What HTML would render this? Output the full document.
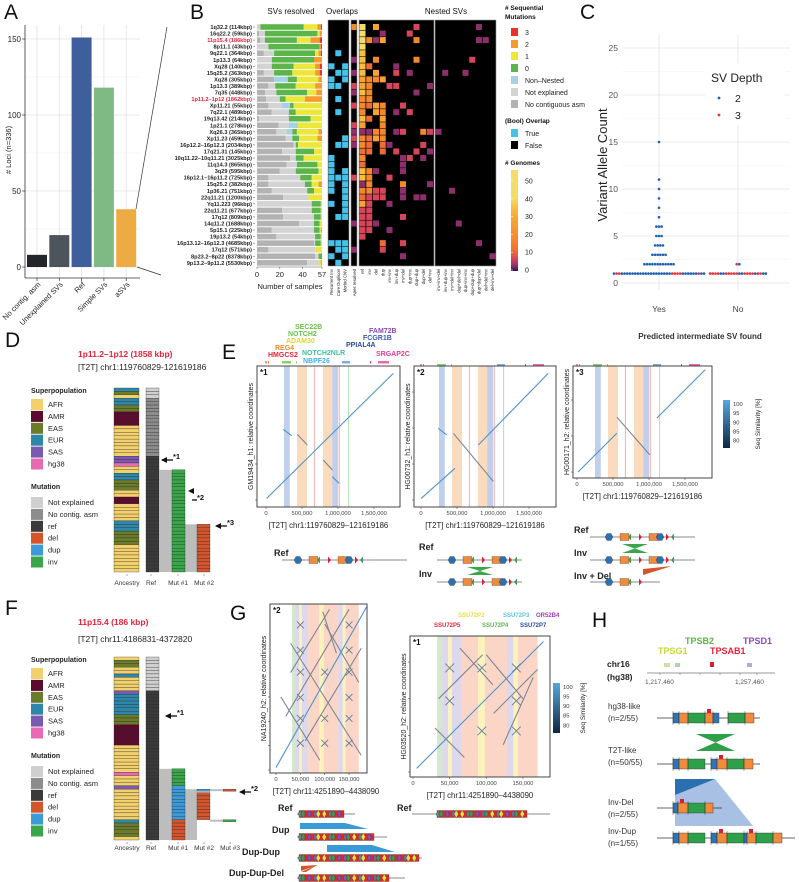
<!DOCTYPE html>
<html><head><meta charset="utf-8">
<style>
html,body{margin:0;padding:0;background:#fff;}
svg{display:block;font-family:"Liberation Sans",sans-serif;}
</style></head>
<body>
<svg id="fig" xmlns="http://www.w3.org/2000/svg" width="799" height="882" viewBox="0 0 799 882"></svg>
<script>
// ---------- DATA ----------
const aCategories=['No contig. asm','Unexplained SVs','Ref','Simple SVs','aSVs'];
const aValues=[8,21,151,118,38];
const aTicks=[0,50,100,150];

const bLoci=['1q32.2 (114kbp)','16q22.2 (59kbp)','11p15.4 (186kbp)','8p11.1 (43kbp)','9q22.1 (364kbp)','1p13.3 (64kbp)','Xq28 (140kbp)','15q25.2 (363kbp)','Xq28 (305kbp)','1p13.3 (389kbp)','7q35 (448kbp)','1p11.2\u20131p12 (1862kbp)','Xp11.21 (55kbp)','7q22.1 (489kbp)','19q13.42 (214kbp)','1p21.1 (278kbp)','Xq26.3 (365kbp)','Xp11.23 (459kbp)','16p12.2\u201316p12.3 (2034kbp)','17q21.31 (145kbp)','10q11.22\u201310q11.21 (3025kbp)','11q14.3 (865kbp)','3q29 (595kbp)','16p12.1\u201316p11.2 (725kbp)','15q25.2 (382kbp)','1p36.21 (751kbp)','22q11.21 (1200kbp)','Yq11.223 (96kbp)','22q11.21 (677kbp)','17q12 (809kbp)','14q11.2 (1688kbp)','5p15.1 (225kbp)','19p13.2 (54kbp)','16p13.12\u201316p12.3 (4685kbp)','17q12 (571kbp)','8p23.2\u20138p22 (8378kbp)','9p13.2\u20139p11.2 (5530kbp)'];
const bHighlight=[2,11];
// per locus: [noAsm, notExplained, nonNested, mut0, mut1, mut2, mut3]
const bCounts=[[0,3,0,38,12,3,1],[2,5,0,46,2,2,0],[3,4,0,28,12,8,2],[0,10,0,45,0,1,1],[6,9,0,36,3,2,1],[0,13,0,37,0,7,0],[0,13,0,19,19,4,2],[6,9,0,16,20,4,2],[15,0,12,8,19,3,0],[10,6,0,18,17,6,0],[7,10,0,27,8,5,0],[8,12,0,5,17,15,0],[10,12,7,3,25,0,0],[13,15,0,6,23,0,0],[2,26,0,19,10,0,0],[19,9,8,0,21,0,0],[17,9,5,4,19,3,0],[25,6,0,6,16,4,0],[32,2,0,2,21,0,0],[22,12,0,16,7,0,0],[29,5,0,7,16,0,0],[26,9,0,18,4,0,0],[20,14,0,20,3,0,0],[10,28,0,10,9,0,0],[10,32,0,6,6,3,0],[13,31,0,6,7,0,0],[23,22,0,0,12,0,0],[0,48,0,8,1,0,0],[22,26,0,8,1,0,0],[23,27,0,6,1,0,0],[37,13,0,5,2,0,0],[13,37,0,5,1,1,0],[17,34,0,5,1,0,0],[50,1,0,5,1,0,0],[10,41,0,0,6,0,0],[51,3,0,3,0,0,0],[44,10,0,0,2,1,0]];
const bXTicks=[0,20,40,57];
const bOverlapCols=['Recurrent Inv','Core Duplicon','Morbid CNV'];
// [row, col] true overlaps
const bOverlapTrue=[[4,1],[6,0],[6,2],[7,1],[7,2],[8,0],[8,2],[9,0],[9,1],[11,1],[13,1],[17,2],[18,1],[18,2],[20,0],[21,0],[22,0],[22,2],[23,0],[23,1],[23,2],[24,0],[24,2],[25,0],[25,2],[26,2],[27,0],[27,2],[28,2],[29,1],[29,2],[33,0],[33,1],[33,2],[34,1],[34,2],[35,0],[35,2],[36,1]];
// [row, genomes] apes resolved
const bApes=[[0,15],[5,3],[7,3],[9,8],[10,3],[12,8],[15,8],[16,3],[17,8],[18,3],[23,8],[30,3],[34,3]];
const bNestedCols=['ref','inv','del','dup','inv+inv','inv+dup','inv+del','dup+inv','dup+dup','dup+del','del+inv'];
const bNested3Cols=['inv+inv+del','inv+dup+inv','inv+del+inv','dup+del+del','dup+inv+inv','dup+dup+dup','dup+dup+del','del+del+inv','del+inv+del'];
// [row, col, genomes]
const bNestedCells=[[0,0,50],[1,0,50],[2,0,48],[3,0,45],[4,0,35],[5,0,35],[6,0,32],[7,0,30],[8,0,20],[9,0,25],[10,0,30],[11,0,15],[12,0,15],[13,0,15],[14,0,30],[15,0,20],[16,0,4],[17,0,15],[18,0,15],[19,0,10],[20,0,15],[21,0,10],[22,0,35],[23,0,30],[24,0,3],[25,0,15],[26,0,12],[27,0,20],[28,0,8],[29,0,6],[30,0,5],[31,0,5],[32,0,7],
[2,1,18],[6,1,12],[8,1,15],[9,1,15],[10,1,15],[11,1,15],[12,1,10],[14,1,12],[16,1,4],[17,1,12],[18,1,14],[19,1,12],[22,1,15],[23,1,15],[24,1,18],[25,1,15],[26,1,8],[27,1,8],[28,1,6],[29,1,8],[30,1,5],[31,1,8],
[0,2,20],[2,2,4],[5,2,15],[7,2,20],[8,2,15],[12,2,20],[13,2,20],[16,2,15],[17,2,20],[22,2,4],[25,2,8],[26,2,6],[30,2,4],
[1,3,4],[2,3,20],[8,3,20],[12,3,18],[13,3,15],[14,3,20],[15,3,15],[16,3,18],[17,3,15],[18,3,14],[19,3,12],[25,3,8],[26,3,6],[33,3,10],[34,3,6],
[9,4,6],[18,4,4],[27,4,4],[23,4,6],[31,4,4],
[7,5,8],[9,5,6],[13,5,4],[16,5,4],[19,5,6],
[6,5,4],[12,6,6],[16,6,6],[20,6,4],[21,6,4],[22,6,4],[24,6,15],[25,6,4],[26,6,4],[29,6,6],[33,6,6],[35,6,4],
[1,7,6],[7,7,4],[13,7,6],[20,7,8],
[0,8,8],[2,8,18],[5,8,15],[10,8,4],[19,8,6],[26,8,4],
[16,9,15],[26,9,4],[18,9,8],[20,9,4],
[9,10,4],[16,10,8],[19,10,4],[24,10,4]];
const bNested3Cells=[[0,6,3],[2,6,3],[2,7,3],[5,5,8],[7,1,3],[7,4,3],[16,0,3],[25,2,3],[30,3,3],[33,6,3],[35,8,3]];
const bGenomeTicks=[0,10,20,30,40,50];

const cGroups=['Yes','No'];
const cTicks=[0,5,10,15,20,25];
const cBinGroup=['Yes','Yes','Yes','Yes','Yes','Yes','Yes','Yes','Yes','Yes','Yes','Yes','No','No'];
const cBinValue=[1,2,3,4,5,6,7,8,9,10,11,15,1,2];
const cBinDepths=[
[2,3,3,2,2,2,2,2,2,2,2,2,2,2,2,2,2,2,2,2,2,2,3,3,3,3,2,2,2,2,2,2,3,2,2],
[2,2,2,2,2,2,2,2,2,2,2,2],[2,2,2,2,2,2],[2,2,2,2],[2,2,2],[2,2,2],[2],[2],[2],[2],[2],[2],
[3,3,3,3,2,2,3,3,3,3,3,2,2,3,3,3,3,2,3,3,2,2],[3,2]];

const dAncestry=['EUR','EAS','AFR','EUR','EUR','EAS','EAS','AMR','AMR','AMR','AMR','AFR','AFR','AFR','AFR','AFR','AFR','AFR','AFR','AFR','SAS','SAS','hg38','AFR','AFR','EUR','EUR','EAS','EAS','EAS','AFR','AFR','AMR','AMR','AFR','AFR','AFR','AFR','AFR','EUR','EUR','EUR','EAS','EAS','EAS','EAS','AFR','AFR','AFR','AFR','AFR','AFR','AFR','AFR'];
const dRefRuns=[['notexp',3],['noasm',17],['ref',34]];
const dMut1Runs=[['none',24],['inv',30]];
const dMut2Runs=[['none',40],['del',14]];
const dMut3Runs=[];
const fAncestry=['AFR','EAS','EAS','AFR','AFR','EUR','AFR','AFR','AFR','AFR','SAS','EUR','EUR','EUR','EUR','EUR','EUR','EAS','EAS','EAS','AMR','AMR','AMR','AMR','AMR','AMR','AFR','AFR','AFR','AFR','AFR','AFR','AFR','AFR','hg38','AFR','AFR','AFR','SAS','AFR','AFR','AFR','AFR','AFR','AFR','AFR','AFR','AFR','EUR','EAS','EAS','EAS','EAS','AFR'];
const fRefRuns=[['notexp',10],['ref',44]];
const fMut1Runs=[['none',33],['inv',5],['dup',10],['del',6]];
const fMut2Runs=[['none',39],['dupthin',1],['del',8],['nonethin',1]];
const fMut3Runs=[['none',39],['delthin',1],['none',8],['invthin',1]];

const eBands=[[250,330,'b'],[430,570,'o'],[665,675,'r'],[790,920,'o'],[920,1000,'b'],[1010,1025,'r'],[1140,1150,'g']];
const eTicks=[0,500,1000,1500];
const eTickLabels=['0','500,000','1,000,000','1,500,000'];
const eSeg1=[[9,23,1768,1759,'b'],[240,981,357,893,'b'],[435,912,574,764,'g'],[796,555,921,417,'g'],[921,324,1014,231,'b']];
const eSeg2=[[0,20,472,440,'b'],[240,995,357,903,'b'],[449,926,1004,259,'g'],[796,764,1768,1760,'b']];
const eSeg3=[[15,0,555,540,'b'],[555,760,1010,240,'g'],[1110,750,1780,1420,'b']];

const gBands=[[33,40,'gr'],[40,48,'pu'],[48,53,'ye'],[53,66,'pu'],[66,89,'or'],[89,98,'ye'],[98,128,'or'],[128,137,'pu'],[137,143,'ye'],[143,170,'or']];
const gTicks=[0,50,100,150];
const gTickLabels=['0','50,000','100,000','150,000'];
const gSeg1=[[0,5,186,335,'b'],[96,325,124,240,'g'],[30,200,110,330,'g'],[20,110,150,330,'g'],[60,60,175,250,'g'],[30,260,175,30,'g'],[100,300,170,180,'g'],[10,150,90,20,'g']];
const gCross1X=[50,50,50,50,50,50,100,100,100,150,150,150,150,150,150];
const gCross1Y=[298,246,201,149,106,55,201,106,55,298,246,201,149,106,55];
const gSeg2=[[5,5,178,178,'b'],[64,169,109,119,'g'],[123,37,164,129,'g'],[35,100,95,160,'g'],[100,160,150,100,'g'],[30,60,70,20,'g'],[110,80,170,140,'g']];
const gCross2X=[50,94,141,50,141,94,141];
const gCross2Y=[142,142,142,97,97,56,56];

// ---------- HELPERS ----------
const NS='http://www.w3.org/2000/svg';
const svg=document.getElementById('fig');
function mk(tag,attrs,parent){const e=document.createElementNS(NS,tag);for(const k in attrs)e.setAttribute(k,attrs[k]);(parent||svg).appendChild(e);return e;}
function tx(x,y,s,attrs,parent){const e=mk('text',Object.assign({x:x,y:y},attrs||{}),parent);e.textContent=s;return e;}
function grp(name){const g=mk('g',{});return g;}
function letter(s,x,y){const t=tx(x,y,s,{'font-size':21,fill:'#111'});}

// ---------- PANEL A ----------
(function(){
const g=grp('panel-a');
letter('A',4,19);
const y0=267,k=1.52;
function ay(v){return y0-v*k;}
function ax(i){return 37+i*22.3;}
[25,75,125].forEach(v=>mk('line',{x1:25,x2:140,y1:ay(v),y2:ay(v),stroke:'#f0f0f0','stroke-width':0.6},g));
aTicks.forEach(v=>mk('line',{x1:25,x2:140,y1:ay(v),y2:ay(v),stroke:'#e2e2e2','stroke-width':0.8},g));
aCategories.forEach((c,i)=>mk('line',{x1:ax(i),x2:ax(i),y1:25,y2:278,stroke:'#e2e2e2','stroke-width':0.8},g));
const cols=['#23272c','#4d545c','#3e5f9b','#7fba85','#eeab43'];
aValues.forEach((v,i)=>{const r=mk('rect',{x:ax(i)-10,y:ay(v),width:20,height:v*k,fill:cols[i]},g);

});
mk('line',{x1:25,x2:25,y1:25,y2:278,stroke:'#333','stroke-width':0.8},g);
mk('line',{x1:25,x2:140,y1:278,y2:278,stroke:'#333','stroke-width':0.8},g);
aTicks.forEach(v=>{tx(21,ay(v)+3,String(v),{'font-size':8,'text-anchor':'end',fill:'#222'},g);mk('line',{x1:22,x2:25,y1:ay(v),y2:ay(v),stroke:'#333','stroke-width':0.7},g);});
aCategories.forEach((c,i)=>{mk('line',{x1:ax(i),x2:ax(i),y1:278,y2:281,stroke:'#333','stroke-width':0.7},g);
const t=tx(ax(i)+4,285,c,{'font-size':7.5,'text-anchor':'end',transform:'rotate(-45 '+(ax(i)+4)+' 285)',fill:'#222'},g);
});
const yt=tx(11,150,'# Loci (n=336)',{'font-size':7.5,'text-anchor':'middle',transform:'rotate(-90 11 150)',fill:'#222'},g);

mk('line',{x1:136,y1:209,x2:167,y2:27,stroke:'#333','stroke-width':0.7},g);
mk('line',{x1:137,y1:267,x2:161,y2:275,stroke:'#333','stroke-width':0.7},g);
})();

// ---------- PANEL B ----------
function gcol(v){if(v>=40)return '#f3dc6a';if(v>=30)return '#f7bd3c';if(v>=20)return '#f7a233';if(v>=15)return '#f4882c';if(v>=10)return '#ee6d37';if(v>=5)return '#d6455a';if(v>=2)return '#8e2f6d';return '#4a2064';}
(function(){
const g=grp('panel-b');
letter('B',190,19);
const rowY=i=>27+i*6.55, rh=5.6;
const bx=v=>257+v*1.14;
const segCols=['#b3b3b3','#d3d3d3','#a6d1e6','#5cb54a','#ece73a','#f59a2f','#e8332a'];
tx(291,14,'SVs resolved',{'font-size':8,'text-anchor':'middle',fill:'#111'},g);
tx(342,14,'Overlaps',{'font-size':8,'text-anchor':'middle',fill:'#111'},g);
tx(446,14,'Nested SVs',{'font-size':8,'text-anchor':'middle',fill:'#111'},g);
bLoci.forEach((l,i)=>{const t=tx(252,rowY(i)+2,l,{'font-size':5.6,'text-anchor':'end','font-weight':'bold',fill:bHighlight.indexOf(i)>=0?'#e8233a':'#222'},g);

mk('line',{x1:253,x2:255,y1:rowY(i),y2:rowY(i),stroke:'#555','stroke-width':0.5},g);
let acc=0;bCounts[i].forEach((v,j)=>{if(v>0){const r=mk('rect',{x:bx(acc),y:rowY(i)-rh/2,width:v*1.14,height:rh,fill:segCols[j]},g);
}acc+=v;});});
mk('line',{x1:257,x2:322,y1:267,y2:267,stroke:'#555','stroke-width':0.5},g);
bXTicks.forEach(v=>{mk('line',{x1:bx(v),x2:bx(v),y1:267,y2:269,stroke:'#555','stroke-width':0.5},g);tx(bx(v),277,String(v),{'font-size':7.5,'text-anchor':'middle',fill:'#222'},g);});
tx(290,289,'Number of samples',{'font-size':7.5,'text-anchor':'middle',fill:'#222'},g);
// overlaps block
const top=20,bot=266;
mk('rect',{x:328,y:top,width:21,height:bot-top,fill:'#000',stroke:'#999','stroke-width':0.6},g);
mk('rect',{x:351,y:top,width:6,height:bot-top,fill:'#000',stroke:'#999','stroke-width':0.6},g);
mk('rect',{x:359,y:top,width:75,height:bot-top,fill:'#000',stroke:'#999','stroke-width':0.6},g);
mk('rect',{x:435,y:top,width:61,height:bot-top,fill:'#000',stroke:'#999','stroke-width':0.6},g);
bOverlapTrue.forEach(c=>{const r=mk('rect',{x:328.5+c[1]*6.8,y:rowY(c[0])-3,width:6,height:6,fill:'#45c1ea'},g);});
bApes.forEach(c=>{const r=mk('rect',{x:351.5,y:rowY(c[0])-3,width:5,height:6,fill:gcol(c[1])},g);});
bNestedCells.forEach(c=>{const r=mk('rect',{x:359.5+c[1]*6.75,y:rowY(c[0])-3,width:6,height:6,fill:gcol(c[2])},g);});
bNested3Cells.forEach(c=>{const r=mk('rect',{x:435.5+c[1]*6.75,y:rowY(c[0])-3,width:6,height:6,fill:gcol(c[2])},g);});
const colLab=(x,s)=>tx(x,269,s,{'font-size':4.3,'text-anchor':'end',transform:'rotate(-90 '+x+' 269)',fill:'#222'},g);
bOverlapCols.forEach((s,i)=>colLab(333+i*6.8,s));
colLab(356,'Apes resolved');
bNestedCols.forEach((s,i)=>colLab(364+i*6.75,s));
bNested3Cols.forEach((s,i)=>colLab(440+i*6.75,s));
// legend
const lg=grp('panel-b-legend');
tx(505,10,'# Sequential',{'font-size':6.5,'font-weight':'bold',fill:'#111'},lg);
tx(505,19,'Mutations',{'font-size':6.5,'font-weight':'bold',fill:'#111'},lg);
const labs=['3','2','1','0','Non\u2013Nested','Not explained','No contiguous asm'];
const lc=['#e8332a','#f59a2f','#ece73a','#5cb54a','#a6d1e6','#d3d3d3','#b3b3b3'];
labs.forEach((s,i)=>{const y=32+i*12;mk('rect',{x:511,y:y-4,width:7,height:8,fill:lc[i]},lg);const t=tx(525,y+3,s,{'font-size':7,fill:'#222'},lg);});
tx(505,123,'(Bool) Overlap',{'font-size':6.5,'font-weight':'bold',fill:'#111'},lg);
mk('rect',{x:511,y:129,width:7,height:8,fill:'#45c1ea'},lg);tx(525,136,'True',{'font-size':7,fill:'#222'},lg);
mk('rect',{x:511,y:141,width:7,height:8,fill:'#000'},lg);tx(525,148,'False',{'font-size':7,fill:'#222'},lg);
tx(505,165,'# Genomes',{'font-size':6.5,'font-weight':'bold',fill:'#111'},lg);
const defs=mk('defs',{});const gr=mk('linearGradient',{id:'gg',x1:0,y1:1,x2:0,y2:0},defs);
[['0','#2c1450'],['0.05','#8e2f6d'],['0.12','#d6455a'],['0.2','#ee6d37'],['0.32','#f4882c'],['0.5','#f7a233'],['0.62','#f7bd3c'],['0.72','#f3dc6a'],['1','#f3dc6a']].forEach(s=>mk('stop',{offset:s[0],'stop-color':s[1]},gr));
mk('rect',{x:511,y:170,width:7,height:101,fill:'url(#gg)'},lg);
bGenomeTicks.forEach(v=>{const y=270-v*1.78;mk('line',{x1:511,x2:513,y1:y,y2:y,stroke:'#fff','stroke-width':0.5},lg);tx(525,y+2.5,String(v),{'font-size':7,fill:'#222'},lg);});
})();

// ---------- PANEL C ----------
(function(){
const g=grp('panel-c');
letter('C',580,19);
const cy=v=>283-v*9.4;
const cx={Yes:659,No:738};
for(let v=2.5;v<=25;v+=5)mk('line',{x1:622,x2:790,y1:cy(v),y2:cy(v),stroke:'#f2f2f2','stroke-width':0.6},g);
cTicks.forEach(v=>{mk('line',{x1:622,x2:790,y1:cy(v),y2:cy(v),stroke:'#e4e4e4','stroke-width':0.8},g);tx(618,cy(v)+3,String(v),{'font-size':8.5,'text-anchor':'end',fill:'#555'},g);});
cGroups.forEach(c=>{mk('line',{x1:cx[c],x2:cx[c],y1:35,y2:290,stroke:'#e4e4e4','stroke-width':0.8},g);const t=tx(cx[c],312,c,{'font-size':8.5,'text-anchor':'middle',fill:'#444'},g);});
const sp=2.65;
cBinValue.forEach((v,i)=>{const d=cBinDepths[i];const n=d.length;d.forEach((dep,j)=>{const x=cx[cBinGroup[i]]+(j-(n-1)/2)*sp;
const c=mk('circle',{cx:x,cy:cy(v),r:1.3,fill:dep===2?'#1f5fb0':'#e8333c'},g);});});
const yt=tx(607,165,'Variant Allele Count',{'font-size':13,'text-anchor':'middle',transform:'rotate(-90 607 165)',fill:'#222'},g);

const xt=tx(700,339,'Predicted intermediate SV found',{'font-size':8,'text-anchor':'middle','font-weight':'bold',fill:'#333'},g);

mk('rect',{x:705,y:63,width:80,height:62,fill:'#fff'},g);
tx(711,82,'SV Depth',{'font-size':12,fill:'#222'},g);
mk('circle',{cx:719,cy:98,r:1.4,fill:'#1f5fb0'},g);tx(735,102,'2',{'font-size':10.5,fill:'#222'},g);
mk('circle',{cx:719,cy:115,r:1.4,fill:'#e8333c'},g);tx(735,119,'3',{'font-size':10.5,fill:'#222'},g);
})();

// ---------- PANELS D / F ----------
const popCol={AFR:'#f2d06b',AMR:'#5c0a2e',EAS:'#6b7b2c',EUR:'#2e86a8',SAS:'#7a5ab0',hg38:'#e76ab2'};
const mutCol={notexp:'#cfcfcf',noasm:'#8c8c8c',ref:'#3a3a3a',del:'#d4552b',dup:'#3c9ad8',inv:'#3aa64a'};
function popPanel(name,L,titleY,coordY,title,coords,legY,mutY,top,bot,anc,refRuns,m1,m2,m3,colLabels,labY){
const g=grp(name);
letter(L,5,titleY-5);
const t1=tx(78,titleY+5,title,{'font-size':8.5,'font-weight':'bold',fill:'#e8233a'},g);
tx(78,coordY,coords,{'font-size':8.5,fill:'#222'},g);
tx(31,legY,'Superpopulation',{'font-size':7,'font-weight':'bold',fill:'#222'},g);
['AFR','AMR','EAS','EUR','SAS','hg38'].forEach((p,i)=>{const y=legY+6+i*11.9;mk('rect',{x:31,y:y,width:12,height:11,fill:popCol[p]},g);const t=tx(48,y+8,p,{'font-size':7.5,fill:'#222'},g);});
tx(31,mutY,'Mutation',{'font-size':7,'font-weight':'bold',fill:'#222'},g);
[['notexp','Not explained'],['noasm','No contig. asm'],['ref','ref'],['del','del'],['dup','dup'],['inv','inv']].forEach((m,i)=>{const y=mutY+8+i*11.9;mk('rect',{x:31,y:y,width:12,height:11,fill:mutCol[m[0]]},g);const t=tx(48,y+8,m[1],{'font-size':7.5,fill:'#222'},g);});
const rh=(bot-top)/anc.length;
anc.forEach((p,i)=>{const r=mk('rect',{x:114,y:top+i*rh,width:25,height:rh,fill:popCol[p],stroke:'#222','stroke-width':0.3},g);});
function runs(arr,xg,xc,gray){let row=0;arr.forEach(r=>{const kind=r[0],n=r[1];
if(kind==='none'){row+=n;return;}
const thin=kind.indexOf('thin')>0;const base=kind.replace('thin','');
for(let j=0;j<n;j++){const y=top+(row+j)*rh;const h=thin?rh*0.6:rh;
if(gray)mk('rect',{x:xg,y:y,width:xc-xg,height:h,fill:'#bdbdbd'},g);
if(base!=='none'){const c=mk('rect',{x:xc,y:y,width:13,height:h,fill:mutCol[base],stroke:'#222','stroke-width':0.3},g);}}
row+=n;});}
runs(refRuns,146,146,false);
// gray fill below steps
function firstRow(arr){let r=0;for(const x of arr){if(x[0]!=='none')return r;r+=x[1];}return anc.length;}
const r1=firstRow(m1),r2=firstRow(m2),r3=m3.length?firstRow(m3):anc.length;
mk('rect',{x:159,y:top+r1*rh,width:13,height:bot-top-r1*rh,fill:'#bdbdbd'},g);
mk('rect',{x:185,y:top+r2*rh,width:12,height:bot-top-r2*rh,fill:'#bdbdbd'},g);
runs(m1,159,172,false);runs(m2,185,197,false);
if(m3.length){runs(m3,210,223,false);mk('rect',{x:210,y:top+r3*rh,width:13,height:rh*0.6,fill:'#bdbdbd'},g);mk('rect',{x:210,y:top+48*rh,width:13,height:rh*0.6,fill:'#bdbdbd'},g);}
colLabels.forEach((s,i)=>{const x=[127,151,178,204,230][i];mk('line',{x1:x,x2:x,y1:bot+2,y2:bot+4,stroke:'#555','stroke-width':0.5},g);tx(x,labY,s,{'font-size':6.5,'text-anchor':'middle',fill:'#333'},g);});
return g;}
function arrow(g,x,y,lab){mk('line',{x1:x,y1:y,x2:x+11,y2:y,stroke:'#111','stroke-width':1.3},g);mk('polygon',{points:(x-1)+','+y+' '+(x+5)+','+(y-3)+' '+(x+5)+','+(y+3),fill:'#111'},g);tx(x+11,y-1,lab,{'font-size':7.5,'font-weight':'bold',fill:'#111'},g);}
(function(){
const g=popPanel('panel-d','D',352,370,'1p11.2\u20131p12 (1858 kbp)','[T2T] chr1:119760829-121619186',393,489,388,572,dAncestry,dRefRuns,dMut1Runs,dMut2Runs,dMut3Runs,['Ancestry','Ref','Mut #1','Mut #2'],585);
arrow(g,162,460,'*1');
mk('polygon',{points:'188,491 194,488 194,494',fill:'#111'},g);
mk('line',{x1:192,y1:500,x2:197,y2:500,stroke:'#111','stroke-width':1.3},g);tx(197,500,'*2',{'font-size':7.5,'font-weight':'bold',fill:'#111'},g);
arrow(g,216,526,'*3');
})();
(function(){
const g=popPanel('panel-f','F',620,642,'11p15.4 (186 kbp)','[T2T] chr11:4186831-4372820',662,758,657,840,fAncestry,fRefRuns,fMut1Runs,fMut2Runs,fMut3Runs,['Ancestry','Ref','Mut #1','Mut #2','Mut #3'],850);
arrow(g,166,716,'*1');
arrow(g,240,792,'*2');
})();

// ---------- DOTPLOT HELPER ----------
const bandFill={b:'rgba(130,160,215,0.5)',o:'rgba(248,190,135,0.55)',r:'rgba(235,120,120,0.6)',g:'rgba(130,205,130,0.6)',gr:'rgba(180,215,170,0.6)',pu:'rgba(200,190,225,0.6)',ye:'rgba(250,240,170,0.8)',or:'rgba(250,200,180,0.75)'};
function dotplot(name,o){
const g=grp(name);
const sx=v=>o.x0+v*o.k, sy=v=>o.y0-v*o.k;
mk('rect',{x:o.bx1,y:o.by1,width:o.bx2-o.bx1,height:o.by2-o.by1,fill:'#fff'},g);
o.bands.forEach(b=>{const x1=sx(b[0]),x2=Math.max(sx(b[1]),x1+1);const r=mk('rect',{x:x1,y:o.by1,width:x2-x1,height:o.by2-o.by1,fill:bandFill[b[2]]},g);});
o.segs.forEach(s=>{const l=mk('line',{x1:sx(s[0]),y1:sy(s[1]),x2:sx(s[2]),y2:sy(s[3]),stroke:s[4]==='b'?'#4f93cc':'#7b8796','stroke-width':1.1},g);});
if(o.cx)o.cx.forEach((cx,i)=>{const cyv=o.cy[i],d=o.cl;
mk('line',{x1:sx(cx-d),y1:sy(cyv-d),x2:sx(cx+d),y2:sy(cyv+d),stroke:'#5a7fa8','stroke-width':0.9},g);
mk('line',{x1:sx(cx-d),y1:sy(cyv+d),x2:sx(cx+d),y2:sy(cyv-d),stroke:'#6b7a8a','stroke-width':0.9},g);});
mk('rect',{x:o.bx1,y:o.by1,width:o.bx2-o.bx1,height:o.by2-o.by1,fill:'none',stroke:'#333','stroke-width':0.9},g);
o.ticks.forEach((v,i)=>{mk('line',{x1:sx(v),x2:sx(v),y1:o.by2,y2:o.by2+2,stroke:'#333','stroke-width':0.5},g);tx(sx(v),o.by2+8,o.tickLabels[i],{'font-size':5.8,'text-anchor':'middle',fill:'#444'},g);
if(sy(v)>o.by1){mk('line',{x1:o.bx1-2,x2:o.bx1,y1:sy(v),y2:sy(v),stroke:'#333','stroke-width':0.5},g);}});
tx(o.bx1+3,o.by1+9,o.tag,{'font-size':8,'font-weight':'bold',fill:'#111'},g);
const xc=(o.bx1+o.bx2)/2;
const xt=tx(o.xtX||xc,o.by2+21,o.xtitle,{'font-size':7.8,'text-anchor':'middle',fill:'#222'},g);
const ym=(o.by1+o.by2)/2;const ytx=o.bx1-4;
const yt=tx(ytx,ym,o.ytitle,{'font-size':7,'text-anchor':'middle',transform:'rotate(-90 '+ytx+' '+ym+')',fill:'#222'},g);
return g;}
function colorbar(name,x,y1,y2,titleX){const g=grp(name);const defs=mk('defs',{},g);const gr=mk('linearGradient',{id:name+'-g',x1:0,y1:1,x2:0,y2:0},defs);
mk('stop',{offset:'0','stop-color':'#0b2740'},gr);mk('stop',{offset:'1','stop-color':'#56a8e0'},gr);
mk('rect',{x:x,y:y1,width:7,height:y2-y1,fill:'url(#'+name+'-g)'},g);
[100,95,90,85,80].forEach((v,i)=>tx(x+10,y1+6+i*(y2-y1-6)/4.6,String(v),{'font-size':5.8,fill:'#333'},g));
const ym=(y1+y2)/2;tx(titleX,ym,'Seq Similarity [%]',{'font-size':6.5,'text-anchor':'middle',transform:'rotate(-90 '+titleX+' '+ym+')',fill:'#222'},g);}

// ---------- PANEL E ----------
(function(){
letter('E',222,359);
const g=grp('panel-e-genes');
const genes=[['SEC22B',295,329,'#6cc04a'],['NOTCH2',288,336,'#6cc04a'],['ADAM30',286,343,'#d8d830'],['REG4',275,350,'#f08a2c'],['HMGCS2',268,357,'#e8233a'],['NOTCH2NLR',302,355,'#3ec0a0'],['NBPF26',303,363,'#40b0e8'],['FAM72B',369,333,'#8a4ab8'],['FCGR1B',363,340,'#3a5ab0'],['PPIAL4A',346,347,'#2a4aa0'],['SRGAP2C',376,356,'#e83a9a']];
genes.forEach(x=>{const t=tx(x[1],x[2],x[0],{'font-size':7,'font-weight':'bold',fill:x[3]},g);});
[[266,0,'#e8233a'],[421,0,'#e8233a'],[577,0,'#e8233a']].forEach(o=>{const x0=o[0];
[[-0.5,1,'#e8233a'],[2,1,'#f08a2c'],[16,9,'#8dd06a'],[30,1,'#8dd06a'],[76,8,'#7ab0e0'],[104,1,'#e83a9a'],[112,11,'#e86ab2']].forEach(b=>mk('rect',{x:x0+b[0],y:o===undefined?0:(x0===266?361:364),width:b[1],height:2.5,fill:b[2]},g));});
const common={k:0.072,bands:eBands,ticks:eTicks,tickLabels:eTickLabels,xtitle:'[T2T] chr1:119760829\u2013121619186'};
dotplot('dotplot-e1',Object.assign({},common,{x0:266,y0:500,bx1:257,bx2:400,by1:366,by2:507,segs:eSeg1,tag:'*1',ytitle:'GM19434_h1: relative coordinates'}));
dotplot('dotplot-e2',Object.assign({},common,{x0:421,y0:500,bx1:414,bx2:556,by1:366,by2:507,segs:eSeg2,tag:'*2',ytitle:'HG00732_h1: relative coordinates'}));
dotplot('dotplot-e3',Object.assign({},common,{x0:577,y0:472,bx1:573,bx2:712,by1:366,by2:478,segs:eSeg3,tag:'*3',ytitle:'HG00171_h2: relative coordinates'}));
colorbar('colorbar-e',723,400,448,760);
})();

// gene-structure diagrams
function hex(g,x,y,w,c){mk('polygon',{points:(x)+','+(y-3.5)+' '+(x+w-2)+','+(y-3.5)+' '+(x+w)+','+y+' '+(x+w-2)+','+(y+3.5)+' '+x+','+(y+3.5)+' '+(x-2)+','+y,fill:c,stroke:'#333','stroke-width':0.3},g);}
function tri(g,x,y,c,dir){mk('polygon',{points:(x)+','+(y-3.5)+' '+(x+dir*3)+','+y+' '+x+','+(y+3.5),fill:c},g);}
const eRefElems=[['bl',0],['or',13],['gr',24],['rd',32],['or',42],['bl',51],['rd',59],['gr',67]];
function eTrack(name,x0,y,l1,l2,n){const g=grp(name);mk('line',{x1:l1,x2:l2,y1:y,y2:y,stroke:'#888','stroke-width':1},g);
eRefElems.slice(0,n).forEach(e=>{const x=x0+e[1];if(e[0]==='bl')hex(g,x,y,6,'#2e6fb0');else if(e[0]==='or'){mk('rect',{x:x,y:y-3.5,width:9,height:7,fill:'#f08a3c',stroke:'#333','stroke-width':0.3},g);}else if(e[0]==='gr')tri(g,x,y,'#3a9a50',-1);else tri(g,x,y,'#d6203a',1);});}
function lab(x,y,s,size){tx(x,y,s,{'font-size':size||9,'font-weight':'bold',fill:'#222'});}
lab(274,556,'Ref');eTrack('e1-ref-track',296,560,282,407,8);
lab(419,550,'Ref');eTrack('e2-ref-track',450,560,437,522,8);
lab(419,577,'Inv');eTrack('e2-inv-track',450,582,437,522,8);
mk('polygon',{points:'467,567 493,567 467,575 493,575',fill:'#3aa64a'});
lab(574,533,'Ref');eTrack('e3-ref-track',607,537,590,695,8);
lab(574,556,'Inv');eTrack('e3-inv-track',607,560,590,695,8);
mk('polygon',{points:'622,544 648,544 622,553 648,553',fill:'#3aa64a'});
lab(574,579,'Inv + Del');eTrack('e3-invdel-track',607,582,590,660,4);
mk('polygon',{points:'643,575 672,566 672,566 643,569',fill:'#d4552b'});

// ---------- PANEL G ----------
(function(){
letter('G',230,620);
const g=grp('panel-g-genes');
[['SSU72P2',458,617,'#e8e040'],['SSU72P3',503,617,'#5ac8e0'],['OR52B4',536,617,'#a040b0'],['SSU72P5',434,627,'#e8233a'],['SSU72P4',482,627,'#5cb54a'],['SSU72P7',520,627,'#2a4aa0']].forEach(x=>{const t=tx(x[1],x[2],x[0],{'font-size':6,'font-weight':'bold',fill:x[3]},g);});
dotplot('dotplot-g1',{x0:276,y0:770,k:0.487,bx1:270,bx2:367,by1:604,by2:773,bands:gBands,segs:gSeg1,cx:gCross1X,cy:gCross1Y,cl:7,ticks:gTicks,tickLabels:gTickLabels,tag:'*2',xtitle:'[T2T] chr11:4251890\u20134438090',xtX:326,ytitle:'NA19240_h2: relative coordinates'});
dotplot('dotplot-g2',{x0:413,y0:772,k:0.733,bx1:410,bx2:550,by1:636,by2:777,bands:gBands,segs:gSeg2,cx:gCross2X,cy:gCross2Y,cl:6,ticks:gTicks,tickLabels:gTickLabels,tag:'*1',xtitle:'[T2T] chr11:4251890\u20134438090',ytitle:'HG03520_h2: relative coordinates'});
colorbar('colorbar-g',553,683,733,585);
})();
function gTrack(name,x1,x2,y,units,startX){const g=grp(name);mk('line',{x1:x1,x2:x2,y1:y,y2:y,stroke:'#888','stroke-width':1},g);
mk('rect',{x:startX,y:y-3.5,width:units*15,height:7,fill:'#e02828',stroke:'#333','stroke-width':0.3},g);
for(let i=0;i<units;i++){const u=startX+i*15;hex(g,u+1,y,2.5,i%2?'#6a6ab0':'#7a7a7a');hex(g,u+4,y,2.5,i%3===1?'#e8e040':'#3a9a50');hex(g,u+10,y,2.5,i%2?'#e8e040':'#8a4ab8');}}
lab(278,811,'Ref');gTrack('g-ref-track',297,355,814,3,299);
mk('polygon',{points:'300,823 345,823 368,829 300,829',fill:'#3a9ad8'});
lab(272,833,'Dup');gTrack('g-dup-track',297,387,837,5,299);
mk('polygon',{points:'327,845 372,845 395,852 327,852',fill:'#3a9ad8'});
lab(242,855,'Dup-Dup');gTrack('g-dupdup-track',297,422,858,8,299);
mk('polygon',{points:'301,872 317,865 306,872',fill:'#d4552b'});
mk('polygon',{points:'301,871 318,865 301,866',fill:'#d4552b'});
lab(229,876,'Dup-Dup-Del');gTrack('g-dupdupdel-track',297,405,878,6,299);
lab(397,811,'Ref');gTrack('g2-ref-track',412,550,814,6,437);

// ---------- PANEL H ----------
(function(){
letter('H',592,627);
const g=grp('panel-h');
[['TPSB2',685,644,'#5cb54a'],['TPSD1',743,644,'#8a4ab8'],['TPSG1',658,654,'#c8d830'],['TPSAB1',710,654,'#e8233a']].forEach(x=>{const t=tx(x[1],x[2],x[0],{'font-size':9,'font-weight':'bold',fill:x[3]},g);});
tx(607,667,'chr16',{'font-size':8.5,'font-weight':'bold',fill:'#222'},g);
tx(607,680,'(hg38)',{'font-size':8.5,'font-weight':'bold',fill:'#222'},g);
mk('line',{x1:647,x2:775,y1:673,y2:673,stroke:'#777','stroke-width':0.8},g);
[660,680,700,720,740,757].forEach(x=>mk('line',{x1:x,x2:x,y1:673,y2:675,stroke:'#777','stroke-width':0.6},g));
mk('rect',{x:664,y:663,width:6,height:4,fill:'#c8e0a0'},g);mk('rect',{x:675,y:663,width:5,height:4,fill:'#a8d8a8'},g);
mk('rect',{x:710,y:662,width:4,height:5,fill:'#d6203a'},g);mk('rect',{x:747,y:663,width:5,height:4,fill:'#b8a8d8'},g);
tx(645,684,'1,217,460',{'font-size':6.5,fill:'#555'},g);tx(735,684,'1,257,460',{'font-size':6.5,fill:'#555'},g);
function box(x,y,w,c){mk('rect',{x:x,y:y-5,width:w,height:10,fill:c,stroke:'#333','stroke-width':0.4},g);}
function track(y,l2,items,reds){mk('line',{x1:657,x2:l2,y1:y,y2:y,stroke:'#333','stroke-width':0.7},g);
items.forEach(it=>{box(it[0],y,it[1],it[2]);mk('line',{x1:it[0],x2:it[0],y1:y-7,y2:y+7,stroke:'#333','stroke-width':0.4},g);});
reds.forEach(x=>mk('rect',{x:x,y:y-9,width:4,height:4,fill:'#d6203a'},g));}
const B='#2e75b6',O='#f08a3c',G='#2ea04a';
function two(x,y,a,b){tx(608,y,a,{'font-size':8,fill:'#333'},g);tx(608,y+12,b,{'font-size':8,fill:'#333'},g);}
two(0,709,'hg38-like','(n=2/55)');
track(718,760,[[673,6,B],[679,9,O],[688,17,G],[705,8,O],[713,6,B],[728,17,G],[745,9,O]],[707]);
mk('polygon',{points:'696,734 735,734 696,751 735,751',fill:'#2ea04a'},g);
two(0,753,'T2T-like','(n=50/55)');
track(764,760,[[673,6,B],[679,9,O],[688,17,G],[711,6,B],[717,10,O],[727,17,G],[744,9,O]],[719]);
mk('polygon',{points:'675,779 715,779 753,826 675,826',fill:'rgba(110,150,210,0.6)'},g);
mk('polygon',{points:'675,779 715,779 675,795',fill:'#2a6fb0'},g);
two(0,805,'Inv-Del','(n=2/55)');
track(808,722,[[673,5,B],[678,10,O],[688,17,G],[705,8,O]],[680]);
two(0,834,'Inv-Dup','(n=1/55)');
track(838,795,[[673,6,B],[679,9,O],[688,17,G],[711,6,B],[717,10,O],[727,17,G],[744,3,B],[747,9,O],[756,17,G],[773,9,O]],[719,749]);
})();
</script>
</body></html>
